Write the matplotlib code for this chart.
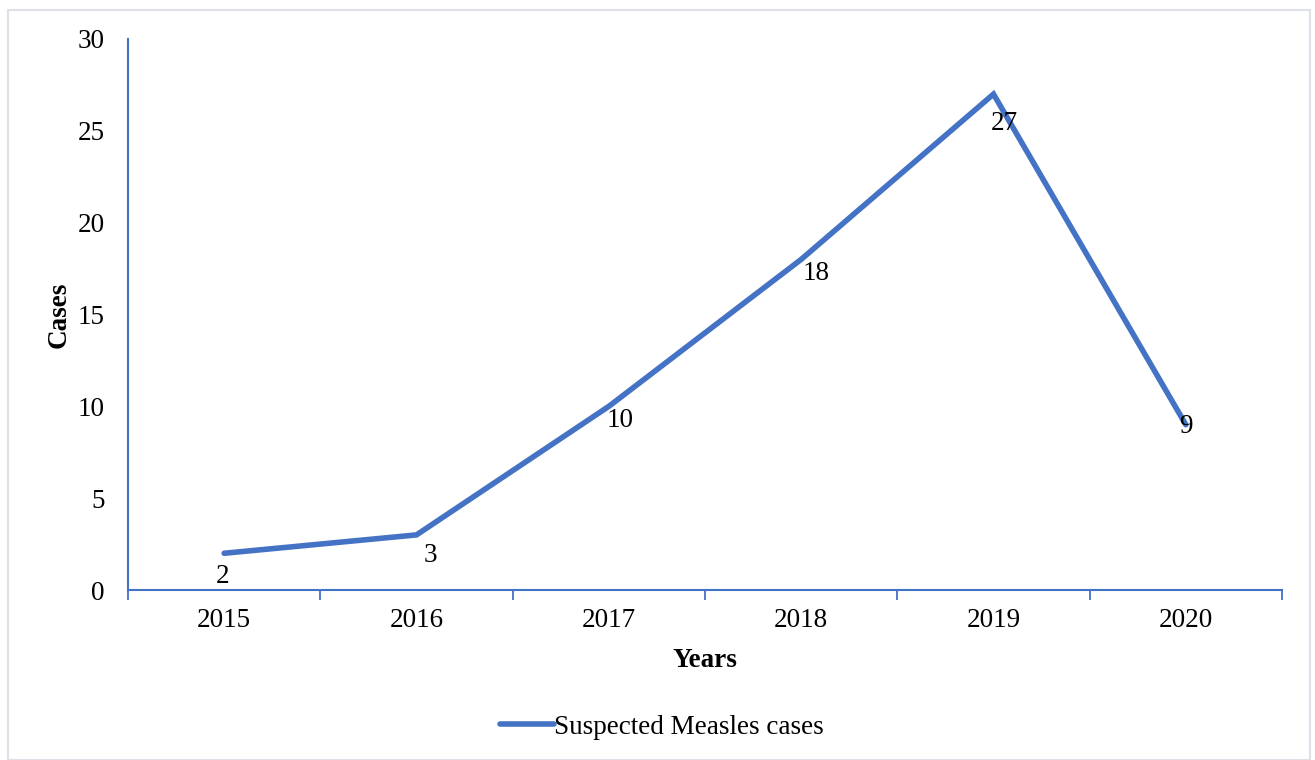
import matplotlib.pyplot as plt
from matplotlib.patches import Rectangle

plt.rcParams['font.family'] = ['Liberation Serif', 'DejaVu Serif']

# data
years = ["2015", "2016", "2017", "2018", "2019", "2020"]
cases = [2, 3, 10, 18, 27, 9]

# label offsets in points (dx, dy) - roughly where Excel put them
label_offsets = [(-1, -17), (10, -15), (8, -10), (11, -10), (8, -21), (0, -1)]

blue = "#4472C4"
fs = 19.5

fig = plt.figure(figsize=(13.15, 7.6), dpi=100)
ax = fig.add_axes([128 / 1315, 1 - 590 / 760, (1282 - 128) / 1315, (590 - 39) / 760])

x = list(range(len(years)))
line, = ax.plot(x, cases, color=blue, linewidth=4, solid_capstyle="round",
                solid_joinstyle="miter", label="Suspected Measles cases")

for xi, yi, (dx, dy) in zip(x, cases, label_offsets):
    ax.annotate(str(yi), xy=(xi, yi), xytext=(dx, dy), textcoords="offset points",
                ha="center", va="center", fontsize=fs, color="black")

ax.set_xlim(-0.5, len(years) - 0.5)
ax.set_ylim(0, 30)
ax.set_yticks(range(0, 31, 5))
ax.set_xticks(x)
ax.set_xticklabels(years)
ax.set_xticks([i - 0.5 for i in range(len(years) + 1)], minor=True)

for side in ["top", "right"]:
    ax.spines[side].set_visible(False)
for side in ["left", "bottom"]:
    ax.spines[side].set_color(blue)
    ax.spines[side].set_linewidth(1.5)

ax.tick_params(axis="y", length=0, labelsize=fs, pad=17)
ax.tick_params(axis="x", which="major", length=0, labelsize=fs, pad=13)
ax.tick_params(axis="x", which="minor", length=7, width=1.3, color=blue, direction="out")

ax.set_ylabel("Cases", fontsize=fs, fontweight="bold", labelpad=4)
ax.set_xlabel("Years", fontsize=fs, fontweight="bold", labelpad=11)

fig.legend(handles=[line], loc="center", bbox_to_anchor=(662 / 1315, 1 - 727 / 760),
           frameon=False, fontsize=fs, handlelength=2.0, handletextpad=0.0)

# light outer border like the Excel chart area
fig.patches.append(Rectangle((8 / 1315, 0), 1302 / 1315, 1 - 10 / 760,
                             transform=fig.transFigure, fill=False,
                             edgecolor="#DDE1E7", linewidth=1.5))

fig.savefig("out.png", dpi=100)
